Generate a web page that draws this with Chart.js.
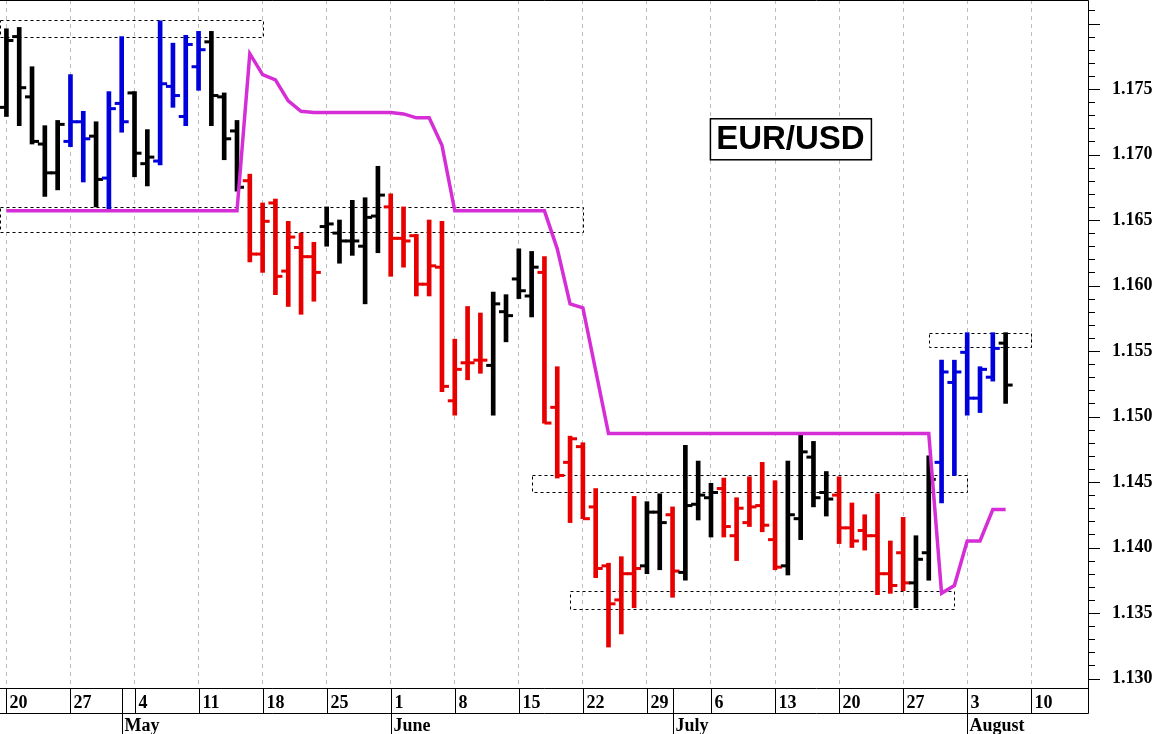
<!DOCTYPE html>
<html>
<head>
<meta charset="utf-8">
<title>EUR/USD</title>
<script src="https://cdn.jsdelivr.net/npm/chart.js@4.4.1/dist/chart.umd.min.js"></script>
<style>
    html, body { margin: 0; padding: 0; background: #fff; }
    canvas { display: block; }
</style>
</head>
<body>
<canvas id="chart-eurusd" width="1159" height="734"></canvas>
<script>
    // daily bars, one per trading day (index 0 = Apr 20)
    const opens = [1.1736, 1.1790, 1.1744, 1.1708, 1.1686, 1.1710, 1.1725, 1.1714, 1.1682, 1.1739,
        1.1747, 1.1693, 1.1695, 1.1752, 1.1729, 1.1767, 1.1786, 1.1744, 1.1718, 1.1680,
        1.1624, 1.1663, 1.1611, 1.1629, 1.1622, 1.1645, 1.1640, 1.1634, 1.1630, 1.1653,
        1.1660, 1.1636, 1.1638, 1.1601, 1.1614, 1.1512, 1.1541, 1.1543, 1.1539, 1.1580,
        1.1605, 1.1592, 1.1610, 1.1507, 1.1465, 1.1477, 1.1431, 1.1386, 1.1360, 1.1380,
        1.1386, 1.1427, 1.1425, 1.1381, 1.1433, 1.1438, 1.1445, 1.1409, 1.1419, 1.1432,
        1.1406, 1.1386, 1.1422, 1.1469, 1.1442, 1.1440, 1.1415, 1.1413, 1.1409, 1.1380,
        1.1396, 1.1373, 1.1396, 1.1465, 1.1526, 1.1549, 1.1514, 1.1530, 1.1556];
    const highs = [1.1796, 1.1797, 1.1767, 1.1722, 1.1726, 1.1761, 1.1733, 1.1725, 1.1748, 1.1790,
        1.1748, 1.1719, 1.1802, 1.1785, 1.1791, 1.1794, 1.1794, 1.1747, 1.1726, 1.1685,
        1.1663, 1.1666, 1.1649, 1.1640, 1.1633, 1.1660, 1.1650, 1.1665, 1.1667, 1.1691,
        1.1670, 1.1660, 1.1639, 1.1650, 1.1649, 1.1559, 1.1584, 1.1579, 1.1595, 1.1593,
        1.1628, 1.1626, 1.1622, 1.1538, 1.1485, 1.1480, 1.1445, 1.1388, 1.1393, 1.1439,
        1.1435, 1.1441, 1.1431, 1.1478, 1.1466, 1.1449, 1.1453, 1.1438, 1.1454, 1.1465,
        1.1451, 1.1466, 1.1486, 1.1481, 1.1458, 1.1454, 1.1434, 1.1425, 1.1441, 1.1405,
        1.1423, 1.1409, 1.1470, 1.1543, 1.1543, 1.1564, 1.1538, 1.1564, 1.1564];
    const lows = [1.1729, 1.1722, 1.1708, 1.1668, 1.1673, 1.1706, 1.1679, 1.1660, 1.1657, 1.1717,
        1.1683, 1.1676, 1.1692, 1.1736, 1.1722, 1.1749, 1.1722, 1.1696, 1.1672, 1.1618,
        1.1610, 1.1593, 1.1584, 1.1578, 1.1588, 1.1630, 1.1617, 1.1623, 1.1586, 1.1625,
        1.1607, 1.1614, 1.1592, 1.1592, 1.1519, 1.1501, 1.1528, 1.1533, 1.1501, 1.1557,
        1.1590, 1.1576, 1.1495, 1.1453, 1.1419, 1.1422, 1.1377, 1.1324, 1.1334, 1.1354,
        1.1380, 1.1383, 1.1362, 1.1375, 1.1421, 1.1408, 1.1408, 1.1390, 1.1416, 1.1412,
        1.1383, 1.1379, 1.1406, 1.1431, 1.1424, 1.1403, 1.1400, 1.1398, 1.1364, 1.1365,
        1.1367, 1.1354, 1.1375, 1.1434, 1.1455, 1.1501, 1.1503, 1.1527, 1.1510];
    const closes = [1.1787, 1.1751, 1.1710, 1.1686, 1.1723, 1.1725, 1.1712, 1.1681, 1.1735, 1.1725,
        1.1701, 1.1698, 1.1754, 1.1745, 1.1784, 1.1780, 1.1745, 1.1712, 1.1675, 1.1624,
        1.1649, 1.1607, 1.1637, 1.1622, 1.1610, 1.1647, 1.1634, 1.1634, 1.1652, 1.1669,
        1.1636, 1.1634, 1.1601, 1.1615, 1.1523, 1.1536, 1.1541, 1.1543, 1.1586, 1.1577,
        1.1596, 1.1614, 1.1495, 1.1455, 1.1483, 1.1422, 1.1384, 1.1357, 1.1380, 1.1384,
        1.1427, 1.1419, 1.1382, 1.1432, 1.1440, 1.1442, 1.1416, 1.1430, 1.1431, 1.1417,
        1.1385, 1.1425, 1.1473, 1.1438, 1.1437, 1.1415, 1.1405, 1.1409, 1.1380, 1.1371,
        1.1373, 1.1391, 1.1452, 1.1534, 1.1534, 1.1514, 1.1536, 1.1552, 1.1524];
    // k = neutral, b = up, r = down
    const barState = ['k','k','k','k','k','b','b','k','b','b',
        'k','k','b','b','b','b','k','k','k','r',
        'r','r','r','r','r','k','k','k','k','k',
        'r','r','r','r','r','r','r','r','k','k',
        'k','k','r','r','r','r','r','r','r','r',
        'k','k','r','k','k','k','r','r','r','r',
        'r','k','k','k','k','r','r','r','r','r',
        'r','k','k','b','b','b','b','b','k'];
    // trailing stop line
    const stopLine = [1.1657, 1.1657, 1.1657, 1.1657, 1.1657, 1.1657, 1.1657, 1.1657, 1.1657, 1.1657,
        1.1657, 1.1657, 1.1657, 1.1657, 1.1657, 1.1657, 1.1657, 1.1657, 1.1657, 1.1777,
        1.1761, 1.1757, 1.1741, 1.1733, 1.1732, 1.1732, 1.1732, 1.1732, 1.1732, 1.1732,
        1.1732, 1.1731, 1.1728, 1.1728, 1.1707, 1.1657, 1.1657, 1.1657, 1.1657, 1.1657,
        1.1657, 1.1657, 1.1657, 1.1628, 1.1586, 1.1583, 1.1535, 1.1487, 1.1487, 1.1487,
        1.1487, 1.1487, 1.1487, 1.1487, 1.1487, 1.1487, 1.1487, 1.1487, 1.1487, 1.1487,
        1.1487, 1.1487, 1.1487, 1.1487, 1.1487, 1.1487, 1.1487, 1.1487, 1.1487, 1.1487,
        1.1487, 1.1487, 1.1487, 1.1365, 1.1371, 1.1405, 1.1405, 1.1429, 1.1429];

    // dotted zones: [from bar, to bar], [low, high]
    const zoneFrom = [-0.5, -0.5, 41, 44, 72];
    const zoneTo = [20, 45, 75, 74, 80];
    const zoneLow = [1.1790, 1.1641, 1.1442, 1.1353, 1.1553];
    const zoneHigh = [1.1803, 1.1660, 1.1455, 1.1367, 1.1564];

    // bottom axis
    const weekIdx = [0, 5, 10, 15, 20, 25, 30, 35, 40, 45, 50, 55, 60, 65, 70, 75, 80];
    const weekLabels = ['20', '27', '4', '11', '18', '25', '1', '8', '15', '22', '29', '6', '13', '20', '27', '3', '10'];
    const monthIdx = [9, 30, 52, 75];
    const monthLabels = ['May', 'June', 'July', 'August'];

    // right axis: minor tick every 0.001, label every 0.005 up to 1.175
    const priceMin = 1.130, priceStep = 0.001, priceTickCount = 52, priceLabelTop = 1.175;
    const pairName = 'EUR/USD';
    const pairLabelAt = { x: 61.2, y: 1.1712 };

    const palette = { k: '#000000', b: '#0000dc', r: '#e80000' };
    const serif = 'bold 18px "Liberation Serif", "Times New Roman", serif';

    const overlay = {
        id: 'overlay',
        beforeDatasetsDraw(chart) {
            const { ctx, scales: { x, y } } = chart;
            ctx.save();
            ctx.strokeStyle = '#000';
            ctx.lineWidth = 1;
            ctx.setLineDash([3, 3]);
            zoneFrom.forEach((f, i) => {
                const x0 = Math.round(x.getPixelForValue(f)) + 0.5;
                const x1 = Math.round(x.getPixelForValue(zoneTo[i])) + 0.5;
                const y0 = Math.round(y.getPixelForValue(zoneHigh[i])) + 0.5;
                const y1 = Math.round(y.getPixelForValue(zoneLow[i])) + 0.5;
                ctx.strokeRect(x0, y0, x1 - x0, y1 - y0);
            });
            ctx.restore();
        },
        afterDatasetDraw(chart, args) {
            if (args.index !== 0) return;
            const { ctx, scales: { x, y } } = chart;
            ctx.save();
            opens.forEach((o, i) => {
                const xp = x.getPixelForValue(i);
                ctx.fillStyle = palette[barState[i]];
                ctx.fillRect(xp - 7, y.getPixelForValue(o) - 1.5, 7, 3);
                ctx.fillRect(xp, y.getPixelForValue(closes[i]) - 1.5, 7, 3);
            });
            ctx.restore();
        },
        afterDraw(chart) {
            const { ctx, chartArea: a, scales: { x, y } } = chart;
            const rowY = a.bottom + 25;
            ctx.save();
            ctx.strokeStyle = '#000';
            ctx.lineWidth = 1;
            // frame
            ctx.beginPath();
            ctx.moveTo(0, a.top + 0.5);
            ctx.lineTo(a.right + 0.5, a.top + 0.5);
            ctx.lineTo(a.right + 0.5, rowY + 0.5);
            ctx.moveTo(0, a.bottom + 0.5);
            ctx.lineTo(a.right + 0.5, a.bottom + 0.5);
            ctx.moveTo(0, rowY + 0.5);
            ctx.lineTo(a.right + 0.5, rowY + 0.5);
            ctx.stroke();
            // price ticks
            ctx.beginPath();
            for (let k = 0; k < priceTickCount; k++) {
                const yp = Math.round(y.getPixelForValue(priceMin + k * priceStep)) + 0.5;
                ctx.moveTo(a.right, yp);
                ctx.lineTo(a.right + (k % 5 === 0 ? 12 : 7), yp);
            }
            ctx.stroke();
            // week row
            ctx.font = serif;
            ctx.fillStyle = '#000';
            ctx.textBaseline = 'alphabetic';
            ctx.textAlign = 'left';
            ctx.beginPath();
            weekIdx.forEach((w, i) => {
                const xp = Math.round(x.getPixelForValue(w)) + 0.5;
                ctx.moveTo(xp, a.bottom);
                ctx.lineTo(xp, rowY);
                ctx.fillText(weekLabels[i], xp + 3, a.bottom + 20);
            });
            monthIdx.forEach((m, i) => {
                const xp = Math.round(x.getPixelForValue(m)) + 0.5;
                ctx.moveTo(xp, a.bottom);
                ctx.lineTo(xp, chart.height);
                ctx.fillText(monthLabels[i], xp + 2, chart.height - 3);
            });
            ctx.stroke();
            // pair label
            const cx = x.getPixelForValue(pairLabelAt.x);
            const cy = y.getPixelForValue(pairLabelAt.y);
            ctx.fillStyle = '#fff';
            ctx.fillRect(cx - 80, cy - 20, 161, 41);
            ctx.lineWidth = 1.5;
            ctx.strokeRect(cx - 80, cy - 20, 161, 41);
            ctx.fillStyle = '#000';
            ctx.font = 'bold 33px "Liberation Sans", Arial, sans-serif';
            ctx.textAlign = 'center';
            ctx.textBaseline = 'middle';
            ctx.fillText(pairName, cx, cy + 1);
            ctx.restore();
        }
    };

    const idx = opens.map((_, i) => i);

    new Chart(document.getElementById('chart-eurusd'), {
        type: 'bar',
        data: {
            datasets: [{
                type: 'bar',
                data: idx.map(i => ({ x: i, y: [lows[i], highs[i]] })),
                backgroundColor: barState.map(s => palette[s]),
                borderWidth: 0,
                barThickness: 4,
                order: 2
            }, {
                type: 'line',
                data: idx.map(i => ({ x: i, y: stopLine[i] })),
                borderColor: '#d62ed6',
                borderWidth: 3.5,
                pointRadius: 0,
                tension: 0,
                order: 1
            }]
        },
        options: {
            responsive: false,
            animation: false,
            layout: { padding: 0 },
            plugins: { legend: { display: false }, tooltip: { enabled: false } },
            scales: {
                x: {
                    type: 'linear',
                    offset: false,
                    min: -0.5,
                    max: 84.43,
                    afterBuildTicks: s => { s.ticks = weekIdx.map(v => ({ value: v })); },
                    afterFit: s => { s.height = 46; s.paddingLeft = 0; s.paddingRight = 0; },
                    ticks: { display: false },
                    grid: { color: '#bdbdbd', drawTicks: false, offset: false },
                    border: { display: false, dash: [4, 4] }
                },
                y: {
                    position: 'right',
                    min: 1.129275,
                    max: 1.181794,
                    afterBuildTicks: s => {
                        s.ticks = Array.from({ length: priceTickCount }, (_, k) => ({ value: Math.round((priceMin + k * priceStep) * 1000) / 1000 }));
                    },
                    afterFit: s => { s.width = 71; s.paddingTop = 0; s.paddingBottom = 0; },
                    ticks: {
                        autoSkip: false,
                        padding: 24,
                        color: '#000',
                        font: { family: '"Liberation Serif", "Times New Roman", serif', size: 18, weight: 'bold' },
                        callback: (v, i) => (i % 5 === 0 && v <= priceLabelTop) ? v.toFixed(3) : ''
                    },
                    grid: { drawOnChartArea: false, drawTicks: false },
                    border: { display: false }
                }
            }
        },
        plugins: [overlay]
    });
</script>
</body>
</html>
